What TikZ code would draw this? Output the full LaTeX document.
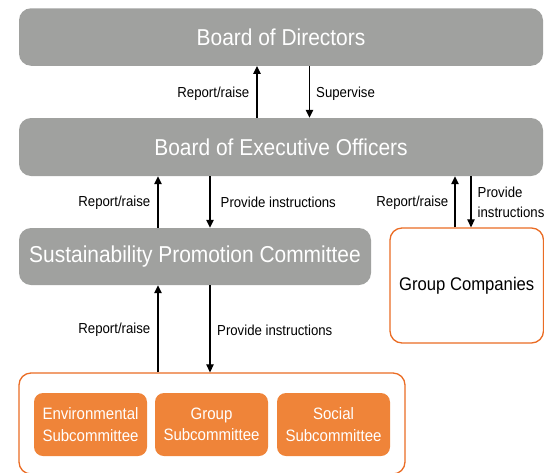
\documentclass[tikz,border=0pt]{standalone}
\usepackage{fontspec}
\setmainfont[FakeStretch=0.91]{Liberation Sans}
\usetikzlibrary{arrows.meta,positioning}
\definecolor{grayc}{RGB}{160,161,159}
\definecolor{orfill}{RGB}{239,132,57}
\definecolor{orline}{RGB}{234,108,36}
\tikzset{
  graybox/.style={fill=grayc, rounded corners=12pt, text=white, inner sep=0pt,
    font=\fontsize{23}{27}\selectfont},
  subbox/.style={fill=orfill, rounded corners=9pt, text=white, inner sep=0pt,
    minimum width=113pt, minimum height=63pt, align=center,
    font=\fontsize{16.5}{21.5}\selectfont},
  orframe/.style={draw=orline, line width=1.3pt, rounded corners=12pt, inner sep=0pt},
  arr/.style={line width=1.2pt, -{Triangle[length=8pt,width=7.5pt]}},
  lbl/.style={font=\fontsize{14.5}{19}\selectfont, inner sep=0pt, align=left}
}
\begin{document}
\begin{tikzpicture}[x=1pt,y=-1pt]
\clip (0,0) rectangle (544,472);
% boxes
\node[graybox, minimum width=524pt, minimum height=57.5pt] (bod) at (281,37) {Board of Directors};
\node[graybox, minimum width=524pt, minimum height=58pt] (beo) at (281,147) {Board of Executive Officers};
\node[graybox, minimum width=352pt, minimum height=57pt] (spc) at (195,256.5) {Sustainability Promotion Committee};
\node[orframe, minimum width=153.5pt, minimum height=115pt, font=\fontsize{18.3}{22}\selectfont] (gc) at (466.75,285.5) {Group Companies};
\node[orframe, minimum width=386pt, minimum height=101pt] (outer) at (212,423.5) {};
\node[subbox] (env) at (90.5,424.5) {Environmental\\Subcommittee};
\node[subbox] (grp) at (211.5,424.5) {Group\\Subcommittee};
\node[subbox] (soc) at (333.5,424.5) {Social\\Subcommittee};
% arrow columns
\coordinate (a1) at (257,0);
\coordinate (a2) at (309.5,0);
\coordinate (b1) at (158,0);
\coordinate (b2) at (210,0);
\coordinate (c1) at (455,0);
\coordinate (c2) at (471,0);
% arrows
\draw[arr] (beo.north -| a1) -- (bod.south -| a1);
\draw[arr] (bod.south -| a2) -- (beo.north -| a2);
\draw[arr] (spc.north -| b1) -- (beo.south -| b1);
\draw[arr] (beo.south -| b2) -- (spc.north -| b2);
\draw[arr] (gc.north -| c1) -- (beo.south -| c1);
\draw[arr] (beo.south -| c2) -- (gc.north -| c2);
\draw[arr] (outer.north -| b1) -- (spc.south -| b1);
\draw[arr] (spc.south -| b2) -- (outer.north -| b2);
% labels
\node[lbl, anchor=east] (l1) at (249.5,94) {Report/raise};
\node[lbl, anchor=west] (l2) at (316,94) {Supervise};
\node[lbl, anchor=east] (l3) at (150.5,202.5) {Report/raise};
\node[lbl, anchor=west] (l4) at (220.5,202.5) {Provide instructions};
\node[lbl, anchor=east] (l5) at (448.5,202.5) {Report/raise};
\node[lbl, anchor=west, font=\fontsize{14.5}{19.5}\selectfont] (l6) at (477.5,202.5) {Provide\\instructions};
\node[lbl, anchor=east] (l7) at (150.5,330) {Report/raise};
\node[lbl, anchor=west] (l8) at (217,330) {Provide instructions};
\end{tikzpicture}
\end{document}
